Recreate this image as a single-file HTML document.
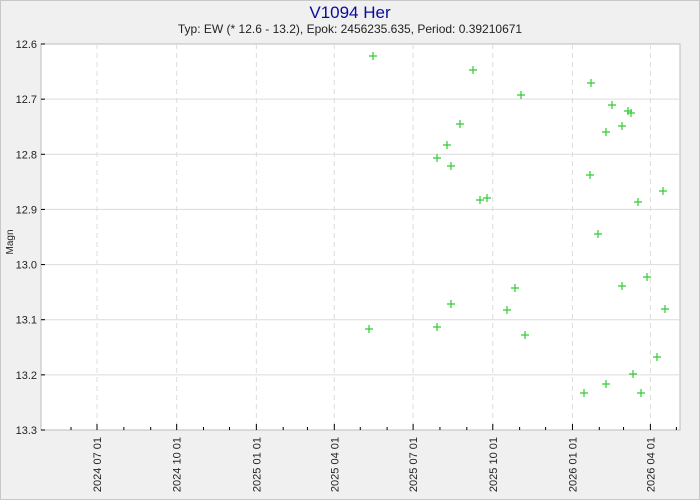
<!DOCTYPE html>
<html><head><meta charset="utf-8"><style>
html,body{margin:0;padding:0;background:#f0f0f0;}
svg{display:block;font-family:"Liberation Sans",sans-serif;}
</style></head><body>
<svg width="700" height="500" xmlns="http://www.w3.org/2000/svg">
<rect x="0.5" y="0.5" width="699" height="499" fill="#f0f0f0" stroke="#c8c8c8"/>
<text x="350" y="18" text-anchor="middle" font-size="17" fill="#0a0aa0">V1094 Her</text>
<text x="350" y="33" text-anchor="middle" font-size="12" fill="#222">Typ: EW (* 12.6 - 13.2), Epok: 2456235.635, Period: 0.39210671</text>
<rect x="41" y="44" width="639" height="386" fill="#fff" stroke="#bdbdbd"/>
<g id="g"></g>
<text transform="translate(13,242) rotate(-90)" text-anchor="middle" font-size="10" fill="#222">Magn</text>
</svg>
<script>
const g=document.getElementById('g');let s='';
const y0=44,ppu=386/0.7;
for(let i=0;i<=7;i++){const m=12.6+i*0.1,y=y0+i*0.1*ppu;
 if(i>0&&i<7)s+=`<line x1="41" y1="${y}" x2="680" y2="${y}" stroke="#dcdcdc"/>`;
 s+=`<line x1="41" y1="${y}" x2="45" y2="${y}" stroke="#000"/>`;
 s+=`<text x="37" y="${y+4}" text-anchor="end" font-size="11" fill="#222">${m.toFixed(1)}</text>`;}
const base=Date.UTC(2024,6,1),ppd=553.4/639;
const X=d=>97+(d-base)/864e5*ppd;
for(let k=0;k<24;k++){const d=Date.UTC(2024,5+k,1),x=X(d);if(x<42||x>679)continue;
 const mo=(5+k)%12;const major=mo%3==0;
 if(major){s+=`<line x1="${x}" y1="44" x2="${x}" y2="430" stroke="#dcdcdc" stroke-dasharray="5,4"/>`;
  s+=`<line x1="${x}" y1="424" x2="${x}" y2="430" stroke="#000"/>`;
  const yr=new Date(d).getUTCFullYear(),mm=String(mo+1).padStart(2,'0');
  s+=`<text transform="translate(${x+4},437) rotate(-90)" text-anchor="end" font-size="11" fill="#222">${yr} ${mm} 01</text>`;}
 else s+=`<line x1="${x}" y1="427" x2="${x}" y2="430" stroke="#000"/>`;}
const pts=[[373,56],[473,70],[521,95],[591,83],[612,105],[628,111],[631,113],[606,132],[622,126],[460,124],[447,145],[437,158],[451,166],[590,175],[663,191],[487,198],[480,200],[638,202],[598,234],[647,277],[622,286],[515,288],[451,304],[507,310],[665,309],[369,329],[437,327],[525,335],[657,357],[633,374],[606,384],[584,393],[641,393]];
for(const [x,y] of pts)s+=`<path d="M${x-4} ${y}H${x+4}M${x} ${y-4}V${y+4}" stroke="#33cc33" stroke-width="1.2"/>`;
g.innerHTML=s;
</script>
</body></html>
